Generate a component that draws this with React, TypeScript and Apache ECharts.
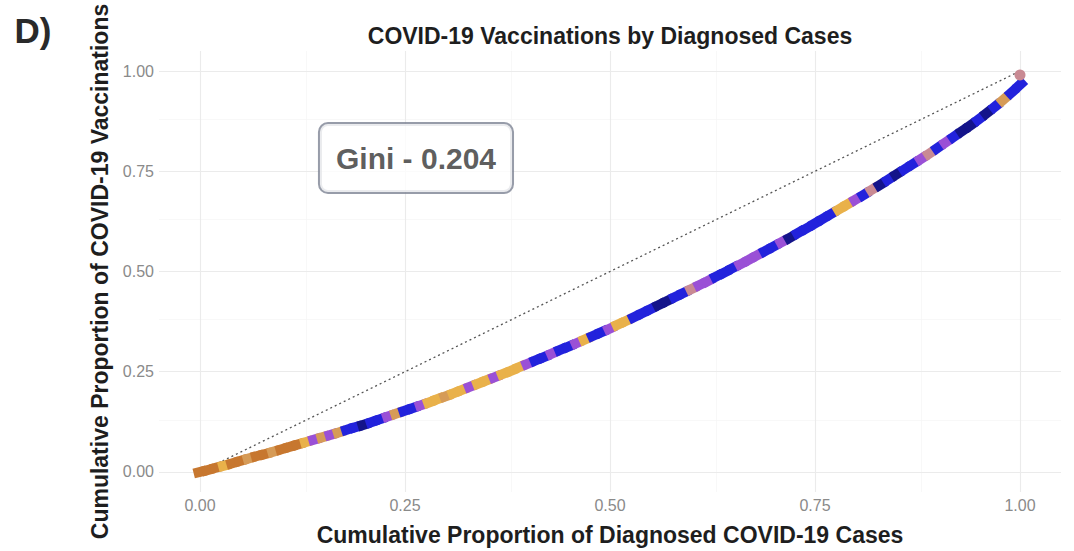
import React, { useEffect, useRef } from "react";
import * as echarts from "echarts";

// Cumulative proportion of diagnosed cases (x) and of vaccinations (y)
const cumCases = [
  0.0, 0.01, 0.02, 0.03, 0.04, 0.05, 0.06, 0.07, 0.08, 0.09,
  0.1, 0.11, 0.12, 0.13, 0.14, 0.15, 0.16, 0.17, 0.18, 0.19,
  0.2, 0.21, 0.22, 0.23, 0.24, 0.25, 0.26, 0.27, 0.28, 0.29,
  0.3, 0.31, 0.32, 0.33, 0.34, 0.35, 0.36, 0.37, 0.38, 0.39,
  0.4, 0.41, 0.42, 0.43, 0.44, 0.45, 0.46, 0.47, 0.48, 0.49,
  0.5, 0.51, 0.52, 0.53, 0.54, 0.55, 0.56, 0.57, 0.58, 0.59,
  0.6, 0.61, 0.62, 0.63, 0.64, 0.65, 0.66, 0.67, 0.68, 0.69,
  0.7, 0.71, 0.72, 0.73, 0.74, 0.75, 0.76, 0.77, 0.78, 0.79,
  0.8, 0.81, 0.82, 0.83, 0.84, 0.85, 0.86, 0.87, 0.88, 0.89,
  0.9, 0.91, 0.92, 0.93, 0.94, 0.95, 0.96, 0.97, 0.98, 0.99,
  1.0, 1.0,
];
const cumVacc = [
  0.0, 0.005, 0.011, 0.016, 0.022, 0.028, 0.034, 0.04, 0.045, 0.051,
  0.057, 0.063, 0.069, 0.075, 0.081, 0.087, 0.093, 0.099, 0.106, 0.112,
  0.118, 0.125, 0.132, 0.139, 0.146, 0.153, 0.16, 0.167, 0.174, 0.182,
  0.189, 0.197, 0.205, 0.213, 0.221, 0.229, 0.237, 0.245, 0.253, 0.262,
  0.27, 0.279, 0.287, 0.296, 0.305, 0.313, 0.322, 0.331, 0.34, 0.349,
  0.358, 0.368, 0.377, 0.387, 0.397, 0.407, 0.417, 0.427, 0.437, 0.447,
  0.457, 0.467, 0.477, 0.488, 0.498, 0.509, 0.519, 0.53, 0.541, 0.552,
  0.563, 0.574, 0.585, 0.597, 0.608, 0.62, 0.632, 0.644, 0.656, 0.668,
  0.68, 0.692, 0.705, 0.717, 0.73, 0.743, 0.756, 0.769, 0.782, 0.795,
  0.809, 0.823, 0.837, 0.851, 0.865, 0.88, 0.896, 0.912, 0.929, 0.947,
  0.966, 0.99,
];
// Colour group of each point
const colorGroup = [
  "O", "O", "O", "G", "O", "O", "T", "O", "O", "T",
  "O", "O", "O", "G", "P", "T", "P", "T", "B", "B",
  "N", "B", "B", "P", "T", "B", "B", "P", "G", "G",
  "T", "G", "G", "P", "G", "G", "P", "G", "G", "G",
  "P", "B", "B", "P", "B", "B", "P", "G", "B", "B",
  "P", "G", "G", "B", "B", "B", "N", "N", "B", "B",
  "K", "P", "P", "B", "B", "B", "P", "P", "P", "B",
  "B", "P", "N", "B", "B", "B", "B", "B", "G", "G",
  "P", "B", "K", "N", "B", "N", "B", "B", "P", "K",
  "B", "P", "B", "N", "N", "B", "N", "B", "T", "B",
  "B", "K",
];
const groupColors: Record<string, string> = {
  O: "#c7772f",
  T: "#d69b57",
  G: "#e9b14a",
  P: "#9a50d6",
  B: "#2222dc",
  N: "#14148a",
  K: "#c98a93",
};
const equalityLine = [
  [0, 0],
  [1, 1],
];
const majorTicks = [0, 0.25, 0.5, 0.75, 1];
const minorTicks = [0.125, 0.375, 0.625, 0.875];
const giniLabel = "Gini - 0.204";
const giniAnchor = [0.2634, 0.783];

const FONT = "'Liberation Sans', Arial, Helvetica, sans-serif";

// layout
const GRID = { left: 159, right: 13, top: 51, bottom: 59 };
const AX_MIN = -0.05;
const AX_MAX = 1.05;

export default function App() {
  const ref = useRef<HTMLDivElement>(null);

  useEffect(() => {
    if (!ref.current) return;
    const chart = echarts.init(ref.current, undefined, { renderer: "svg" });

    const gridW = 1074 - GRID.left - GRID.right;
    const gridH = 551 - GRID.top - GRID.bottom;
    const kx = gridW / (AX_MAX - AX_MIN);
    const ky = gridH / (AX_MAX - AX_MIN);

    const points = cumCases.map((x, i) => {
      const a = Math.max(0, i - 1);
      const b = Math.min(cumCases.length - 2, i + 1);
      const dx = (cumCases[b] - cumCases[a]) * kx;
      const dy = (cumVacc[b] - cumVacc[a]) * ky;
      const ang = (Math.atan2(dy, dx) * 180) / Math.PI;
      const last = i === cumCases.length - 1;
      return {
        value: [x, cumVacc[i]],
        symbol: last ? "circle" : "rect",
        symbolSize: last ? 11 : [13, 10],
        symbolRotate: last ? 0 : ang,
        itemStyle: { color: groupColors[colorGroup[i]], opacity: 1 },
      };
    });

    const majorStyle = { color: "#ebebeb", width: 1.1, type: "solid" };
    const minorStyle = { color: "#f5f5f5", width: 0.7, type: "solid" };
    const gridLines = [
      ...minorTicks.map((v) => ({ xAxis: v, lineStyle: minorStyle })),
      ...minorTicks.map((v) => ({ yAxis: v, lineStyle: minorStyle })),
      ...majorTicks.map((v) => ({ xAxis: v, lineStyle: majorStyle })),
      ...majorTicks.map((v) => ({ yAxis: v, lineStyle: majorStyle })),
    ];

    chart.setOption({
      animation: false,
      backgroundColor: "#ffffff",
      textStyle: { fontFamily: FONT },
      grid: { ...GRID, containLabel: false, outerBoundsMode: "none" },
      xAxis: {
        type: "value",
        min: AX_MIN,
        max: AX_MAX,
        name: "Cumulative Proportion of Diagnosed COVID-19 Cases",
        nameLocation: "middle",
        nameGap: 31,
        nameTextStyle: { fontSize: 23, fontWeight: "bold", color: "#1e1e1e", fontFamily: FONT },
        axisLine: { show: false },
        axisTick: { show: false },
        splitLine: { show: false },
        axisLabel: {
          customValues: majorTicks,
          formatter: (v: number) => v.toFixed(2),
          color: "#8a8a8a",
          fontSize: 16,
          margin: 5,
          fontFamily: FONT,
        },
      },
      yAxis: {
        type: "value",
        min: AX_MIN,
        max: AX_MAX,
        name: "Cumulative Proportion of COVID-19 Vaccinations",
        nameLocation: "middle",
        nameGap: 45,
        nameTextStyle: { fontSize: 23, fontWeight: "bold", color: "#1e1e1e", fontFamily: FONT },
        axisLine: { show: false },
        axisTick: { show: false },
        splitLine: { show: false },
        axisLabel: {
          customValues: majorTicks,
          formatter: (v: number) => v.toFixed(2),
          color: "#8a8a8a",
          fontSize: 16,
          margin: 5,
          fontFamily: FONT,
        },
      },
      graphic: [
        {
          type: "text",
          x: 610,
          y: 36,
          style: {
            text: "COVID-19 Vaccinations by Diagnosed Cases",
            font: `bold 23px ${FONT}`,
            fill: "#1e1e1e",
            textAlign: "center",
            textVerticalAlign: "middle",
            align: "center",
            verticalAlign: "middle",
          },
        },
        {
          type: "text",
          x: 33,
          y: 30,
          style: {
            text: "D)",
            font: `bold 35px ${FONT}`,
            fill: "#2a2a2a",
            textAlign: "center",
            textVerticalAlign: "middle",
            align: "center",
            verticalAlign: "middle",
          },
        },
      ],
      series: [
        {
          type: "line",
          name: "Equality",
          data: equalityLine,
          symbol: "none",
          z: 2,
          lineStyle: { color: "#555555", width: 1.3, type: [2, 3] },
          markLine: {
            silent: true,
            symbol: ["none", "none"],
            label: { show: false },
            animation: false,
            z: 1,
            data: gridLines,
          },
        },
        {
          type: "scatter",
          name: "Counties",
          data: points,
          clip: false,
          z: 3,
        },
        {
          type: "scatter",
          name: "Gini",
          data: [giniAnchor],
          symbolSize: 0,
          z: 5,
          label: {
            show: true,
            position: "inside",
            formatter: giniLabel,
            fontSize: 30,
            fontWeight: "bold",
            color: "#333333",
            fontFamily: FONT,
            backgroundColor: "#ffffff",
            borderColor: "#7d8394",
            borderWidth: 2,
            borderRadius: 8,
            padding: [19, 16],
          },
        },
      ],
    });

    return () => chart.dispose();
  }, []);

  return (
    <div
      ref={ref}
      style={{ position: "fixed", left: 0, top: 0, width: 1074, height: 551, background: "#fff" }}
    />
  );
}
